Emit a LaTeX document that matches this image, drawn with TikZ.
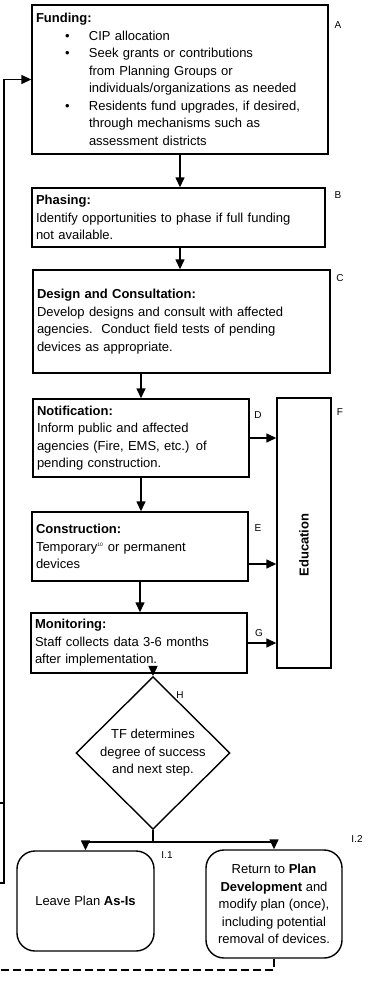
\documentclass[tikz,border=0pt]{standalone}
\usepackage{fontspec}
\setmainfont{Liberation Sans}
\usetikzlibrary{arrows.meta,shapes.geometric}
\newcommand\flowfont{\fontsize{13}{17.5}\selectfont}
\newcommand\tagfont{\fontsize{10}{12}\selectfont}
\newcommand\bul{\hspace*{29pt}\makebox[24pt][l]{\textbullet}}
\newcommand\cont{\hspace*{53pt}}
\begin{document}
\begin{tikzpicture}[x=1pt,y=-1pt,line width=1.4pt,
  stepbox/.style={draw,inner xsep=4pt,inner ysep=0pt,align=left,font=\flowfont},
  endbox/.style={draw,rounded corners=18pt,inner sep=2pt,align=center,font=\flowfont},
  arr/.style={-{Triangle[length=10pt,width=9pt]}},
  tag/.style={font=\tagfont,inner sep=0pt}]
\useasboundingbox (0,0) rectangle (367,982);
\node[stepbox,text width=288pt,minimum height=149pt] (fund) at (180,79.5) {\textbf{Funding:}\\
\bul CIP allocation\\
\bul Seek grants or contributions\\
\cont from Planning Groups or\\
\cont individuals/organizations as needed\\
\bul Residents fund upgrades, if desired,\\
\cont through mechanisms such as\\
\cont assessment districts};
\node[stepbox,text width=285pt,minimum height=59pt] (phase) at (178.5,217.5) {\textbf{Phasing:}\\
Identify opportunities to phase if full funding\\
not available.};
\node[stepbox,text width=289pt,minimum height=103pt] (design) at (181.5,321.5) {\textbf{Design and Consultation:}\\
Develop designs and consult with affected\\
agencies.\ \ Conduct field tests of pending\\
devices as appropriate.};
\node[stepbox,text width=208pt,minimum height=78pt] (notif) at (141,438) {\textbf{Notification:}\\
Inform public and affected\\
agencies (Fire, EMS, etc.) of\\
pending construction.};
\node[stepbox,text width=208pt,minimum height=69pt] (constr) at (140,546.5) {\textbf{Construction:}\\
Temporary\textsuperscript{\tiny 10} or permanent\\
devices};
\node[stepbox,text width=208pt,minimum height=60pt] (monit) at (139,643) {\textbf{Monitoring:}\\
Staff collects data 3-6 months\\
after implementation.};
\node[draw,minimum width=54pt,minimum height=270pt] (edu) at (304,533) {};
\node[rotate=90,font=\flowfont\bfseries] (edutext) at (304,545) {Education};
\node[draw,diamond,minimum width=154pt,minimum height=112pt,inner sep=0pt,align=center,font=\flowfont] (decide) at (153,753) {TF determines\\degree of success\\and next step.};
\node[endbox,minimum width=137pt,minimum height=100pt] (leave) at (85.5,901) {Leave Plan \textbf{As-Is}};
\node[endbox,minimum width=136pt,minimum height=108pt] (ret) at (274,904) {Return to \textbf{Plan}\\
\textbf{Development} and\\
modify plan (once),\\
including potential\\
removal of devices.};
\node[tag] (tagA) at (338,25) {A};
\node[tag] (tagB) at (338,195) {B};
\node[tag] (tagC) at (340,278) {C};
\node[tag] (tagD) at (258,415) {D};
\node[tag] (tagE) at (258,528) {E};
\node[tag] (tagF) at (340,412) {F};
\node[tag] (tagG) at (259,633) {G};
\node[tag] (tagH) at (180,695) {H};
\node[tag] (tagI1) at (167,855) {I.1};
\node[tag] (tagI2) at (357,839) {I.2};
\draw[arr] (fund.south) -- (fund.south |- phase.north);
\draw[arr] (phase.south -| fund.south) -- (fund.south |- design.north);
\draw[arr] (notif.north |- design.south) -- (notif.north);
\draw[arr] (notif.south) -- (notif.south |- constr.north);
\draw[arr] (constr.south) -- (constr.south |- monit.north);
\draw[arr] (monit.south -| decide.north) -- (decide.north);
\draw[arr] (notif.east) -- (notif.east -| edu.west);
\draw[arr] ([yshift=-17.5pt]constr.east) -- ([yshift=-17.5pt]constr.east -| edu.west);
\draw[arr] (monit.east) -- (monit.east -| edu.west);
\draw (decide.south) -- ++(0,12) coordinate (split);
\draw[arr] (split) -| (leave.north);
\draw[arr] (split) -| (ret.north);
\coordinate (loopfoot) at (0,883);
\coordinate (loopstub) at (0,803);
\draw[arr] (loopfoot) -- (4,883) |- (fund.west);
\draw (loopstub) -- (4,803);
\coordinate (dashend) at (0,970);
\draw[dash pattern=on 8pt off 4pt] (ret.south) |- (dashend);
\end{tikzpicture}
\end{document}
